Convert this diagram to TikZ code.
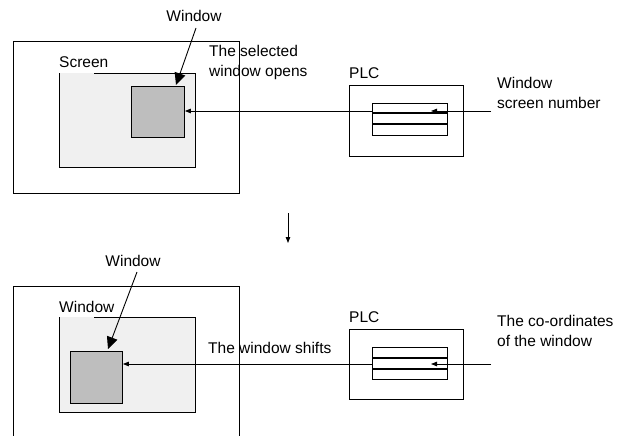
\documentclass[tikz,border=0pt]{standalone}
\usepackage{fontspec}
\setmainfont{Liberation Sans}
\usetikzlibrary{arrows.meta}
\definecolor{lightfill}{HTML}{F0F0F0}
\definecolor{darkfill}{HTML}{BEBEBE}
\tikzset{
  frame/.style={draw, line width=0.9pt},
  box/.style={draw, line width=0.9pt, inner sep=0pt, anchor=north west},
  lightbox/.style={fill=lightfill, inner sep=0pt, anchor=north west},
  winbox/.style={draw, line width=0.9pt, fill=darkfill, inner sep=0pt, anchor=north west},
  tblbox/.style={draw, line width=1pt, inner sep=0pt, anchor=north west, minimum width=75pt, minimum height=32pt},
  rowline/.style={line width=1.3pt},
  lbl/.style={inner sep=0pt, font=\fontsize{15.5}{20}\selectfont, align=left},
  bigarrow/.style={line width=0.9pt, -{Triangle[length=12pt,width=11pt]}},
  smallarrow/.style={line width=0.9pt, -{Triangle[length=6pt,width=4.5pt]}},
}
\begin{document}
\begin{tikzpicture}[x=1pt,y=-1pt]
\useasboundingbox (0,0) rectangle (618,436);
% ---------- top panel ----------
\node[box, minimum width=226pt, minimum height=152pt] (outer1) at (13,41) {};
\node[lightbox, minimum width=136pt, minimum height=94pt] (scr1) at (59,73) {};
\draw[line width=0.9pt] ([xshift=35pt]scr1.north west) -- (scr1.north east) -- (scr1.south east) -- (scr1.south west) -- (scr1.north west);
\node[lbl, anchor=base west] (scrlbl) at (59,67) {Screen};
\node[winbox, minimum width=53pt, minimum height=51pt] (win1) at (131,86) {};
\node[lbl, anchor=base] (wlbl1) at (194,22) {Window};
\coordinate (wl1s) at (196,28);
\coordinate (wl1e) at (176,85);
\draw[bigarrow] (wl1s) -- (wl1e);
\node[lbl, anchor=base west] (open1) at (209,76) {The selected\\window opens};
\node[box, minimum width=114pt, minimum height=71pt] (plc1) at (349,85) {};
\node[lbl, anchor=base west] (plclbl1) at (349,78) {PLC};
\node[tblbox] (tbl1) at (372,103) {};
\draw[rowline] (372,113) -- (447,113);
\draw[rowline] (372,124) -- (447,124);
\node[lbl, anchor=base west] (num1) at (497,108) {Window\\screen number};
\coordinate (a1s) at (491,111);
\coordinate (a1e) at (431,111);
\draw[smallarrow] (a1s) -- (a1e);
\draw[smallarrow] (tbl1.west |- a1s) -- (win1.east |- a1s);
% ---------- middle arrow ----------
\coordinate (d1) at (288,213);
\coordinate (d2) at (288,243);
\draw[smallarrow] (d1) -- (d2);
% ---------- bottom panel ----------
\draw[frame] (13,436) -- (13,286) -- (239,286) -- (239,436);
\node[lightbox, minimum width=136pt, minimum height=95pt] (scr2) at (59,317) {};
\draw[line width=0.9pt] ([xshift=35pt]scr2.north west) -- (scr2.north east) -- (scr2.south east) -- (scr2.south west) -- (scr2.north west);
\node[lbl, anchor=base west] (scrlbl2) at (59,312) {Window};
\node[winbox, minimum width=52pt, minimum height=52pt] (win2) at (70,351) {};
\node[lbl, anchor=base] (wlbl2) at (133,266) {Window};
\coordinate (wl2s) at (137,272);
\coordinate (wl2e) at (108,349);
\draw[bigarrow] (wl2s) -- (wl2e);
\node[lbl, anchor=base west] (shift2) at (208,353) {The window shifts};
\node[box, minimum width=114pt, minimum height=70pt] (plc2) at (349,329) {};
\node[lbl, anchor=base west] (plclbl2) at (349,322) {PLC};
\node[tblbox] (tbl2) at (372,347) {};
\draw[rowline] (372,358) -- (447,358);
\draw[rowline] (372,369) -- (447,369);
\node[lbl, anchor=base west] (coord2) at (497,346) {The co-ordinates\\of the window};
\coordinate (a2s) at (491,364);
\coordinate (a2e) at (431,364);
\draw[smallarrow] (a2s) -- (a2e);
\draw[smallarrow] (tbl2.west |- a2s) -- (win2.east |- a2s);
\end{tikzpicture}
\end{document}
